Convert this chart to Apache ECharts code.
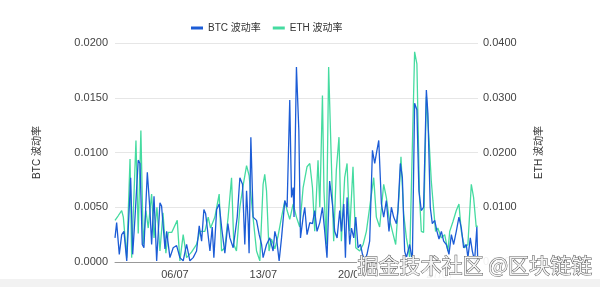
<!DOCTYPE html>
<html>
<head>
<meta charset="utf-8">
<script src="https://cdn.jsdelivr.net/npm/echarts@6/dist/echarts.min.js"></script>
<style>
html,body{margin:0;padding:0;background:#fff;}
#c{width:600px;height:287px;}
</style>
</head>
<body>
<div id="c"></div>
<script>
// time in days of July (1.25 = 01/07 06:00)
var btcTime = [1.25,1.38,1.59,1.78,1.96,2.18,2.49,2.65,2.83,3.09,3.23,3.41,3.54,3.81,4.02,4.15,4.34,4.55,4.81,4.94,5.21,5.34,5.60,5.86,6.13,6.39,6.65,6.92,7.18,7.44,7.71,7.92,8.11,8.29,8.43,8.58,8.77,8.95,9.08,9.30,9.50,9.71,9.95,10.19,10.35,10.61,10.93,11.14,11.35,11.53,11.67,11.80,11.87,12.01,12.19,12.46,12.67,12.86,12.98,13.25,13.51,13.77,13.91,14.04,14.25,14.44,14.70,14.88,15.09,15.23,15.36,15.43,15.62,15.81,15.94,16.15,16.28,16.46,16.68,16.89,17.07,17.25,17.47,17.68,17.86,18.04,18.25,18.47,18.65,18.84,19.05,19.18,19.37,19.50,19.63,19.84,19.98,20.16,20.32,20.50,20.69,20.85,21.03,21.21,21.42,21.64,21.82,21.95,22.14,22.35,22.53,22.74,22.95,23.14,23.32,23.54,23.66,23.85,24.01,24.19,24.33,24.59,24.80,24.98,25.16,25.32,25.51,25.69,25.91,26.03,26.22,26.38,26.57,26.75,26.91,27.10,27.28,27.49,27.70,27.89,28.07,28.28,28.49,28.68,28.86,29.07,29.20,29.39,29.55,29.73,29.91,29.97];
var btcVol = [0.0022,0.0036,0.0007,0.0025,0.0028,0.0001,0.0077,0.0007,0.0040,0.0093,0.0090,0.0016,0.0013,0.0082,0.0047,0.0016,0.0060,0.0001,0.0054,0.0051,0.0012,0.0028,0.0004,0.0013,0.0015,0.0004,0.0001,0.0016,0.0001,0.0004,0.0010,0.0033,0.0019,0.0048,0.0044,0.0044,0.0010,0.0032,0.0004,0.0048,0.0053,0.0030,0.0008,0.0035,0.0022,0.0013,0.0041,0.0077,0.0071,0.0016,0.0065,0.0035,0.0008,0.0114,0.0041,0.0038,0.0025,0.0016,0.0004,0.0016,0.0022,0.0010,0.0028,0.0022,0.0001,0.0022,0.0056,0.0050,0.0148,0.0059,0.0068,0.0041,0.0178,0.0120,0.0022,0.0041,0.0050,0.0025,0.0036,0.0035,0.0047,0.0028,0.0036,0.0050,0.0028,0.0004,0.0074,0.0053,0.0028,0.0022,0.0047,0.0028,0.0053,0.0004,0.0059,0.0016,0.0031,0.0022,0.0041,0.0013,0.0016,0.0007,0.0001,0.0007,0.0019,0.0102,0.0090,0.0099,0.0111,0.0053,0.0041,0.0056,0.0028,0.0050,0.0041,0.0035,0.0047,0.0090,0.0077,0.0010,0.0004,0.0016,0.0001,0.0145,0.0139,0.0065,0.0047,0.0050,0.0157,0.0136,0.0050,0.0035,0.0038,0.0028,0.0021,0.0028,0.0019,0.0016,0.0007,0.0025,0.0016,0.0028,0.0041,0.0031,0.0013,0.0016,0.0004,0.0022,0.0010,0.0001,0.0032,0.0005];
var ethTime = [1.25,1.49,1.78,1.91,2.18,2.44,2.57,2.91,3.09,3.30,3.49,3.70,3.88,4.15,4.34,4.57,4.81,5.05,5.28,5.47,5.74,6.18,6.39,6.65,6.92,7.31,7.71,7.97,8.37,8.63,8.82,9.16,9.50,9.69,9.95,10.21,10.48,10.66,10.87,11.14,11.40,11.67,11.87,12.19,12.46,12.72,12.98,13.11,13.25,13.45,13.64,13.91,14.17,14.44,14.70,14.88,15.09,15.36,15.62,15.88,16.15,16.46,16.68,16.89,17.07,17.33,17.47,17.68,17.80,17.99,18.17,18.39,18.57,18.78,18.99,19.18,19.44,19.63,19.84,20.10,20.32,20.63,20.90,21.16,21.42,21.74,21.95,22.21,22.53,22.74,22.95,23.22,23.48,23.74,23.90,24.11,24.33,24.59,24.98,25.16,25.37,25.51,25.69,25.91,26.11,26.30,26.43,26.64,26.82,27.10,27.36,27.62,27.76,28.02,28.28,28.49,28.68,28.94,29.20,29.47,29.65,29.86,29.97];
var ethVol = [0.0076,0.0084,0.0094,0.0082,0.0008,0.0188,0.0008,0.0222,0.0052,0.0240,0.0032,0.0094,0.0062,0.0124,0.0044,0.0100,0.0020,0.0090,0.0016,0.0054,0.0054,0.0076,0.0002,0.0050,0.0008,0.0018,0.0032,0.0056,0.0056,0.0082,0.0062,0.0082,0.0124,0.0020,0.0026,0.0082,0.0154,0.0032,0.0020,0.0100,0.0140,0.0176,0.0158,0.0080,0.0020,0.0002,0.0142,0.0160,0.0130,0.0020,0.0042,0.0024,0.0048,0.0082,0.0112,0.0094,0.0078,0.0106,0.0082,0.0064,0.0136,0.0174,0.0180,0.0136,0.0056,0.0186,0.0100,0.0304,0.0130,0.0032,0.0356,0.0180,0.0038,0.0168,0.0228,0.0038,0.0154,0.0180,0.0056,0.0174,0.0026,0.0020,0.0032,0.0056,0.0100,0.0154,0.0082,0.0064,0.0142,0.0118,0.0082,0.0056,0.0032,0.0120,0.0192,0.0088,0.0044,0.0008,0.0384,0.0362,0.0118,0.0056,0.0054,0.0302,0.0228,0.0148,0.0112,0.0056,0.0062,0.0044,0.0050,0.0020,0.0056,0.0074,0.0094,0.0106,0.0056,0.0026,0.0032,0.0142,0.0118,0.0064,0.0066];
var xTicks = [6, 13, 20, 27];
var leftTicks = [0, 0.005, 0.01, 0.015, 0.02];
var rightTicks = [0, 0.01, 0.02, 0.03, 0.04];

function zip(a, b) { var r = []; for (var i = 0; i < a.length; i++) r.push([a[i], b[i]]); return r; }
function pad(n) { return (n < 10 ? '0' : '') + n; }

var FONT = '"Liberation Sans", Arial, "Noto Sans CJK SC", sans-serif';
var chart = echarts.init(document.getElementById('c'));
var txt = {color: '#444', fontSize: 11, fontFamily: FONT};
chart.setOption({
  animation: false,
  color: ['#1c5cd6', '#45dba0'],
  legend: {
    top: 18, left: 186, itemWidth: 12, itemHeight: 3, itemGap: 12,
    icon: 'rect',
    textStyle: {color: '#333', fontSize: 10, fontFamily: FONT},
    data: ['BTC 波动率', 'ETH 波动率']
  },
  grid: {left: 115, right: 122, top: 43, bottom: 25},
  xAxis: {
    type: 'value', min: 1.25, max: 30,
    splitLine: {show: false},
    axisLine: {lineStyle: {color: '#999'}},
    axisTick: {show: false},
    axisLabel: {
      customValues: xTicks, margin: 7,
      color: '#444', fontSize: 11, fontFamily: FONT,
      formatter: function (v) { return pad(Math.round(v)) + '/07'; }
    }
  },
  yAxis: [{
    type: 'value', min: leftTicks[0], max: leftTicks[leftTicks.length - 1], interval: 0.005,
    name: 'BTC 波动率', nameLocation: 'middle', nameGap: 73, nameRotate: 90,
    nameTextStyle: {color: '#333', fontSize: 10, fontFamily: FONT},
    axisLine: {show: false}, axisTick: {show: false},
    splitLine: {lineStyle: {color: '#e6e6e6'}},
    axisLabel: Object.assign({margin: 7, formatter: function (v) { return v.toFixed(4); }}, txt)
  }, {
    type: 'value', min: rightTicks[0], max: rightTicks[rightTicks.length - 1], interval: 0.01,
    name: 'ETH 波动率', nameLocation: 'middle', nameGap: 56, nameRotate: 90,
    nameTextStyle: {color: '#333', fontSize: 10, fontFamily: FONT},
    axisLine: {show: false}, axisTick: {show: false},
    splitLine: {show: false},
    axisLabel: Object.assign({margin: 5, formatter: function (v) { return v.toFixed(4); }}, txt)
  }],
  series: [{
    name: 'BTC 波动率', type: 'line', yAxisIndex: 0, symbol: 'none',
    lineStyle: {width: 1.3}, data: zip(btcTime, btcVol), z: 3
  }, {
    name: 'ETH 波动率', type: 'line', yAxisIndex: 1, symbol: 'none',
    lineStyle: {width: 1.3}, data: zip(ethTime, ethVol), z: 2
  }],
  graphic: [{
    type: 'rect', left: 0, top: 279, shape: {width: 600, height: 8},
    style: {fill: '#f2f2f2'}, silent: true
  }, {
    type: 'rect', left: 357, top: 257, z: 99, shape: {width: 234, height: 21},
    style: {fill: 'rgba(255,255,255,0.93)'}, silent: true
  }, {
    type: 'text', left: 357, top: 254, z: 100,
    style: {text: '掘金技术社区 @区块链链', fill: '#f4f4f4', stroke: '#555', lineWidth: 1,
      font: '21px "Noto Sans CJK SC", sans-serif'}
  }]
});
</script>
</body>
</html>
